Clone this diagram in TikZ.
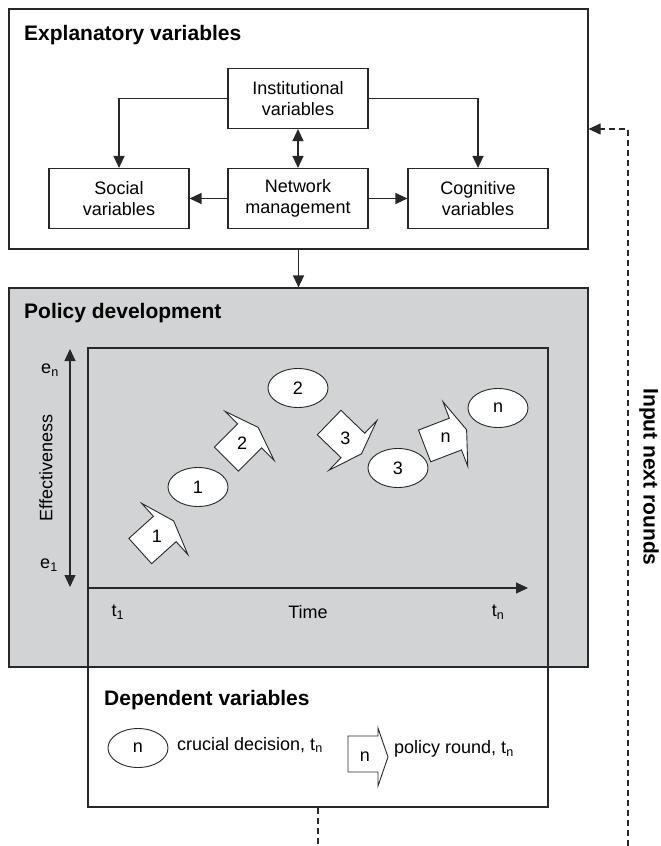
\documentclass[tikz,border=0pt]{standalone}
\usepackage{fontspec}
\setmainfont{Liberation Sans}
\usetikzlibrary{arrows.meta,shapes.geometric}
\definecolor{panelgray}{RGB}{209,211,212}
\definecolor{linecol}{RGB}{40,40,40}
\tikzset{
  frame/.style={draw=linecol,line width=1.2pt,inner sep=0pt},
  varbox/.style={draw=linecol,line width=1.1pt,fill=white,minimum width=140pt,minimum height=60pt,
    align=center,inner sep=0pt,font=\fontsize{18}{21}\selectfont},
  titletext/.style={font=\fontsize{21}{25}\selectfont\bfseries,inner sep=0pt},
  plain/.style={font=\fontsize{18}{21}\selectfont,inner sep=0pt},
  conn/.style={draw=linecol,line width=1.2pt,-{Triangle[length=12pt,width=11pt]}},
  both/.style={draw=linecol,line width=1.2pt,{Triangle[length=12pt,width=11pt]}-{Triangle[length=12pt,width=11pt]}},
  dashline/.style={draw=linecol,line width=1.1pt,dash pattern=on 6pt off 4pt},
  decision/.style={ellipse,draw=linecol,line width=0.9pt,fill=white,minimum width=60pt,minimum height=39pt,
    inner sep=0pt,font=\fontsize{18}{21}\selectfont},
  shapeline/.style={draw=linecol,line width=0.9pt,fill=white,line join=miter},
  pics/blockarr/.style={code={
    \draw[shapeline] (-16.5,-17) -- (16.5,-17) -- (16.5,-34.5) -- (28.5,0) -- (16.5,34.5)
      -- (16.5,17) -- (-16.5,17) -- cycle;
    \node[plain] (-lab) at (6,0) {#1};
  }}
}
\begin{document}
\begin{tikzpicture}[x=1pt,y=-1pt]
\useasboundingbox (0,0) rectangle (661,846);

% Explanatory variables
\node[frame,minimum width=579pt,minimum height=240pt] (expl) at (298.5,129) {};
\node[titletext,anchor=base west] (explt) at (24,40) {Explanatory variables};
\node[varbox] (inst) at (298,98.5) {Institutional\\variables};
\node[varbox] (soc) at (119,198.5) {Social\\variables};
\node[varbox] (net) at (298,198.5) {Network\\management};
\node[varbox] (cog) at (478,198.5) {Cognitive\\variables};
\draw[conn] (inst.west) -| (soc.north);
\draw[conn] (inst.east) -| (cog.north);
\draw[both] (inst) -- (net);
\draw[conn] (net) -- (soc);
\draw[conn] (net) -- (cog);

% Policy development
\node[frame,fill=panelgray,minimum width=579pt,minimum height=379pt] (pol) at (298.5,477.5) {};
\draw[conn] (expl) -- (pol);
\node[titletext,anchor=base west] (polt) at (24,318) {Policy development};
\node[frame,minimum width=460pt,minimum height=459pt] (dep) at (318,577.5) {};

% axes
\coordinate (yb) at (70,587);
\coordinate (yt) at (70,349);
\draw[both] (yb) -- (yt);
\coordinate (xo) at (88,588);
\coordinate (xe) at (528,588);
\draw[conn] (xo) -- (xe);
\node[plain] (en) at (50,370) {e\textsubscript{n}};
\node[plain] (e1) at (49,565) {e\textsubscript{1}};
\node[plain,rotate=90] (eff) at (46,468) {Effectiveness};
\node[plain] (t1) at (118,612) {t\textsubscript{1}};
\node[plain] (time) at (308,612) {Time};
\node[plain] (tn) at (498,612) {t\textsubscript{n}};

% rounds and decisions
\pic[rotate=42] (a1) at (152.5,540) {blockarr=1};
\pic[rotate=45] (a2) at (238,447.5) {blockarr=2};
\pic[rotate=-44] (a3) at (341,434) {blockarr=3};
\pic[rotate=21] (an) at (440,440) {blockarr=n};
\node[decision] (d1) at (198,487) {1};
\node[decision] (d2) at (298,388) {2};
\node[decision] (d3) at (398,468) {3};
\node[decision] (dn) at (498,408) {n};

% Dependent variables
\node[titletext,anchor=base west] (dept) at (104,705) {Dependent variables};
\node[decision] (ld) at (138,748) {n};
\node[plain,anchor=west] (ldt) at (177,745) {crucial decision, t\textsubscript{n}};
\draw[shapeline] (348,736) -- (378,736) -- (378,728) -- (388,757) -- (378,786) -- (378,772) -- (348,772) -- cycle;
\node[plain] (lr) at (365,757) {n};
\node[plain,anchor=west] (lrt) at (394,749) {policy round, t\textsubscript{n}};

% feedback
\coordinate (fb) at (628,846);
\draw[conn,dash pattern=on 6pt off 4pt] (fb) |- (expl.east);
\node[titletext,rotate=-90] (inp) at (649,477) {Input next rounds};
\coordinate (db) at (318,846);
\draw[dashline] (dep.south) -- (db);
\end{tikzpicture}
\end{document}
